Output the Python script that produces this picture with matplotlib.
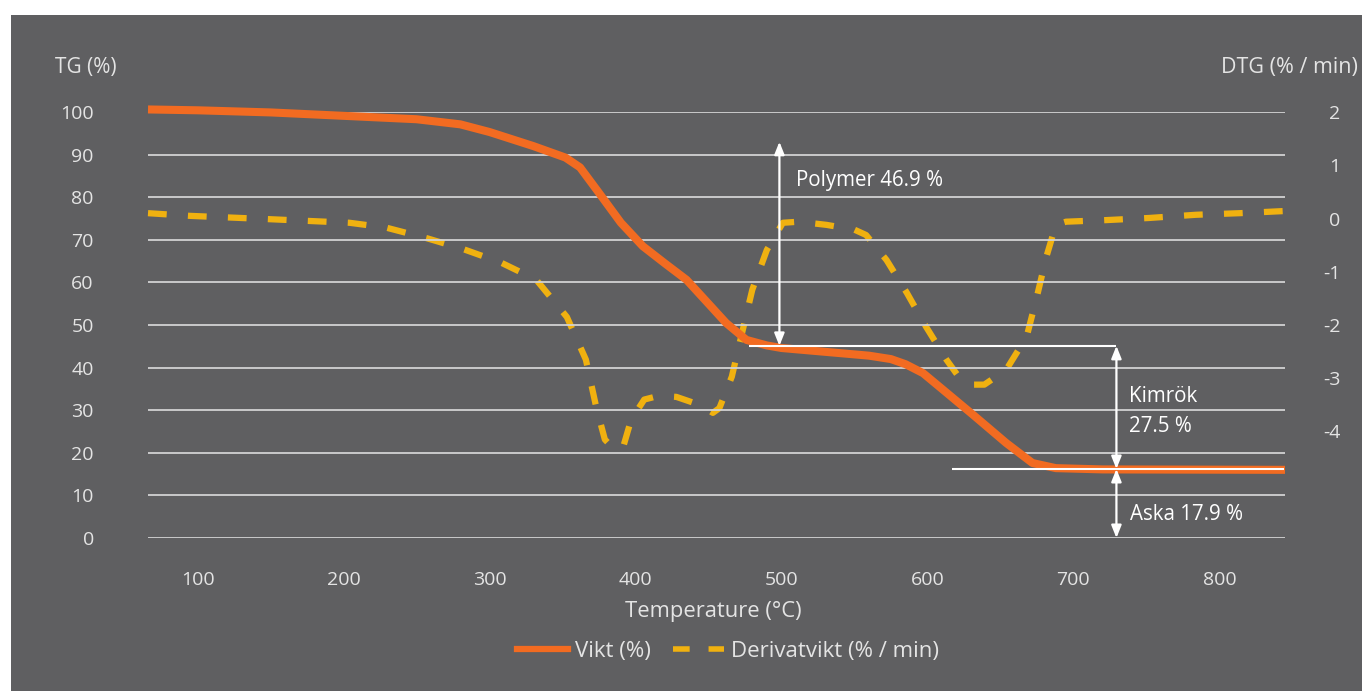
import numpy as np
import matplotlib
matplotlib.use('Agg')
from matplotlib import pyplot as plt
from matplotlib.patches import Rectangle
from matplotlib.lines import Line2D

BG = '#5f5f61'
TXT = '#e4e4e4'
ORANGE = '#f26b21'
YELLOW = '#f0b110'

# Vikt (TG, %) vs temperature
tg_temp = [66, 100, 150, 200, 250, 280, 300, 330, 352, 362, 375, 390, 405, 420, 435, 450,
           462, 476, 490, 500, 540, 560, 575, 585, 597, 610, 631, 654, 672, 688, 720, 845]
tg_val = [100.6, 100.4, 99.9, 99.1, 98.3, 97.1, 95.3, 92.0, 89.3, 87.0, 81.0, 74.0, 68.5, 64.5, 60.6, 55.0,
          50.5, 46.5, 45.2, 44.6, 43.4, 42.8, 42.0, 40.8, 38.7, 35.0, 29.0, 22.3, 17.6, 16.4, 16.1, 16.0]

# Derivatvikt (DTG, %/min) vs temperature
dtg_temp = [66, 94.5, 147, 204, 229, 257, 281.5, 308, 332, 353, 366, 373, 379, 385.6, 392, 397,
            406, 416, 428, 444, 453, 457.5, 466, 473, 480, 490, 501, 512, 531, 550, 558, 572,
            586, 599, 613, 623, 631, 639, 654, 668, 675, 681.5, 688, 695, 722.6, 752, 784, 814, 844.5]
dtg_val = [0.10, 0.05, -0.01, -0.08, -0.17, -0.37, -0.57, -0.83, -1.15, -1.85, -2.65, -3.53, -4.15,
           -4.34, -4.25, -3.78, -3.40, -3.33, -3.35, -3.50, -3.65, -3.56, -2.97, -2.15, -1.34, -0.59,
           -0.08, -0.06, -0.12, -0.21, -0.31, -0.78, -1.40, -2.03, -2.65, -3.03, -3.12, -3.12, -2.84,
           -2.22, -1.47, -0.72, -0.12, -0.06, -0.03, 0.01, 0.07, 0.10, 0.14]

x_ticks = [100, 200, 300, 400, 500, 600, 700, 800]
tg_ticks = list(range(0, 101, 10))
dtg_ticks = [2, 1, 0, -1, -2, -3, -4]

# mass-loss steps (temperature of bracket, levels in %)
polymer_x, polymer_top, polymer_bottom = 498.6, 93.0, 45.1
step_x, char_level, ash_level = 729.5, 45.1, 16.2

plt.rcParams['font.family'] = ['Open Sans', 'DejaVu Sans']
plt.rcParams['axes.unicode_minus'] = False

fig = plt.figure(figsize=(13.62, 6.91), dpi=100, facecolor='white')
W, H = 1362, 691
fig.patches.append(Rectangle((11 / W, 0), 1 - 11 / W, (H - 15) / H, transform=fig.transFigure,
                             facecolor=BG, edgecolor='none', zorder=-10))

ax = fig.add_axes([148 / W, (H - 538) / H, (1285 - 148) / W, (538 - 112) / H])
ax.set_facecolor('none')
ax.set_xlim(66, 845)
ax.set_ylim(0, 100)
for s in ax.spines.values():
    s.set_visible(False)
ax.set_yticks(tg_ticks)
ax.set_xticks(x_ticks)
ax.tick_params(axis='y', length=0, pad=39, labelsize=14, labelcolor=TXT)
ax.tick_params(axis='x', length=0, pad=24, labelsize=14, labelcolor=TXT)
ax.grid(axis='y', color='#d2d2d2', lw=1.3)
ax.grid(axis='x', visible=False)
ax.set_axisbelow(True)

ax2 = ax.twinx()
ax2.set_ylim(-6, 2)
for s in ax2.spines.values():
    s.set_visible(False)
ax2.set_yticks(dtg_ticks)
ax2.tick_params(axis='y', length=0, pad=40, labelsize=14, labelcolor=TXT)
for lab in ax2.get_yticklabels():
    lab.set_horizontalalignment('right')

ax2.plot(dtg_temp, dtg_val, color=YELLOW, lw=4.5, dashes=(3.0, 3.4), clip_on=False, zorder=2)
ax.plot(tg_temp, tg_val, color=ORANGE, lw=5.8, clip_on=False, zorder=3, solid_capstyle='butt',
        solid_joinstyle='round')
ax.set_zorder(ax2.get_zorder() + 1)

# annotation lines and arrows
ax.hlines(char_level, 478, step_x, color='white', lw=1.5, zorder=4)
ax.hlines(ash_level, 617, 844.5, color='white', lw=1.5, zorder=4)
arrow = dict(arrowstyle='<|-|>,head_length=0.75,head_width=0.3', color='white', lw=1.6,
             shrinkA=0, shrinkB=0)
ax.annotate('', xy=(polymer_x, polymer_top), xytext=(polymer_x, polymer_bottom), arrowprops=arrow, zorder=5)
ax.annotate('', xy=(step_x, char_level), xytext=(step_x, ash_level), arrowprops=arrow, zorder=5)
ax.annotate('', xy=(step_x, ash_level), xytext=(step_x, 0), arrowprops=arrow, zorder=5)

ax.text(510.3, 84.0, 'Polymer 46.9 %', color='white', fontsize=14.8, va='center', ha='left')
ax.text(738.4, 33.1, 'Kimrök', color='white', fontsize=14.8, va='center', ha='left')
ax.text(738.4, 26.1, '27.5 %', color='white', fontsize=14.8, va='center', ha='left')
ax.text(739, 5.4, 'Aska 17.9 %', color='white', fontsize=14.8, va='center', ha='left')

fig.text(55 / W, 1 - 68 / H, 'TG (%)', color=TXT, fontsize=15, ha='left', va='center')
fig.text(1358 / W, 1 - 68 / H, 'DTG (% / min)', color=TXT, fontsize=15.5, ha='right', va='center')
fig.text(713 / W, 1 - 612 / H, 'Temperature (°C)', color=TXT, fontsize=15.8, ha='center', va='center')

handles = [Line2D([], [], color=ORANGE, lw=4.5),
           Line2D([], [], color=YELLOW, lw=4, dashes=(3.0, 3.4))]
fig.legend(handles, ['Vikt (%)', 'Derivatvikt (% / min)'], loc='center', ncol=2,
           bbox_to_anchor=(728 / W, 1 - 651 / H), frameon=False, labelcolor=TXT, fontsize=16,
           handlelength=2.3, handletextpad=0.3, columnspacing=1.0)

fig.savefig('out.png', dpi=100, facecolor=fig.get_facecolor())
